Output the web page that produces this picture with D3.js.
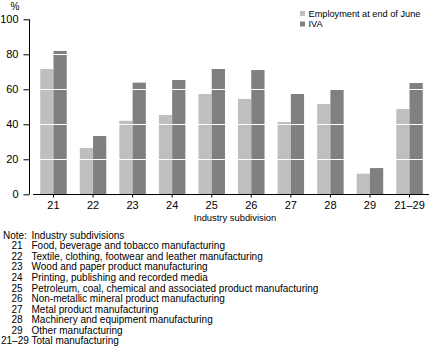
<!DOCTYPE html>
<html>
<head>
<meta charset="utf-8">
<script src="https://cdn.jsdelivr.net/npm/d3@7"></script>
<style>
  html, body { margin: 0; padding: 0; background: #fff; }
  svg text { font-family: "Liberation Sans Narrow", "Arial Narrow", "Liberation Sans", Arial, sans-serif; fill: #000; }
</style>
</head>
<body>
<svg id="chart" width="435" height="359"></svg>
<script>
const categories = ["21", "22", "23", "24", "25", "26", "27", "28", "29", "21–29"];
const employment = [71.6, 26.5, 42, 45.3, 57.3, 54.5, 41.3, 51.6, 11.8, 48.7];
const iva = [81.9, 33.3, 63.8, 65.3, 71.6, 71, 57.3, 59.6, 15, 63.6];
const seriesNames = ["Employment at end of June", "IVA"];
const seriesColors = ["#bfbfbf", "#808080"];
const yTicks = [0, 20, 40, 60, 80, 100];
const noteCodes = ["21", "22", "23", "24", "25", "26", "27", "28", "29", "21–29"];
const noteTexts = [
  "Food, beverage and tobacco manufacturing",
  "Textile, clothing, footwear and leather manufacturing",
  "Wood and paper product manufacturing",
  "Printing, publishing and recorded media",
  "Petroleum, coal, chemical and associated product manufacturing",
  "Non-metallic mineral product manufacturing",
  "Metal product manufacturing",
  "Machinery and equipment manufacturing",
  "Other manufacturing",
  "Total manufacturing"
];

const svg = d3.select("#chart");
const x = d3.scaleBand().domain(categories).range([33.7, 429.3]).paddingInner(0.33).paddingOuter(0.165);
const xs = d3.scaleBand().domain([0, 1]).range([0, x.bandwidth()]);
const y = d3.scaleLinear().domain([0, 100]).range([194.3, 19.3]);

const data = categories.map((c, i) => ({ c, v: [employment[i], iva[i]] }));

// bars
const g = svg.append("g");
data.forEach(d => {
  d.v.forEach((v, k) => {
    g.append("rect")
      .attr("x", x(d.c) + xs(k))
      .attr("y", y(v))
      .attr("width", xs.bandwidth())
      .attr("height", y(0) - y(v))
      .attr("fill", seriesColors[k]);
  });
});

// white gridlines over bars
svg.append("g").selectAll("line").data(yTicks.filter(t => t > 0 && t < 100)).join("line")
  .attr("x1", 33).attr("x2", 429)
  .attr("y1", d => Math.round(y(d)) + 0.5).attr("y2", d => Math.round(y(d)) + 0.5)
  .attr("stroke", "#fff").attr("stroke-width", 1.2);

// y axis
const yAxis = d3.axisLeft(y).tickValues(yTicks).tickSize(6).tickPadding(5).tickFormat(d3.format("d"));
const ya = svg.append("g").attr("transform", "translate(29.5,0)").call(yAxis);
ya.select(".domain").attr("d", `M0,${y(100)}V${y(0)}`).attr("stroke", "#000");
ya.selectAll("text").style("font-size", "11px");

// x axis
const xAxis = d3.axisBottom(x).tickSize(3).tickPadding(4);
const xa = svg.append("g").attr("transform", `translate(0,${Math.round(y(0)) + 0.5})`).call(xAxis);
xa.select(".domain").attr("d", "M33,0H429").attr("stroke", "#000");
xa.selectAll("text").style("font-size", "11px");

// % label
svg.append("text").attr("x", 15).attr("y", 10).attr("text-anchor", "middle").style("font-size", "10px").text("%");

// x axis title
svg.append("text").attr("x", 235).attr("y", 221).attr("text-anchor", "middle").style("font-size", "9.4px").text("Industry subdivision");

// legend
const leg = svg.append("g");
seriesNames.forEach((n, i) => {
  leg.append("rect").attr("x", 300).attr("y", 11 + i * 10.5).attr("width", 5).attr("height", 5).attr("fill", seriesColors[i]);
  leg.append("text").attr("x", 308.5).attr("y", 16.5 + i * 10.5).style("font-size", "9.2px").text(n);
});

// notes
const notes = svg.append("g").style("font-size", "10px");
notes.append("text").attr("x", 3).attr("y", 238.8).text("Note:");
notes.append("text").attr("x", 31.5).attr("y", 238.8).text("Industry subdivisions");
noteCodes.forEach((c, i) => {
  const yy = 238.8 + (i + 1) * 10.54;
  if (c.length > 2) {
    notes.append("text").attr("x", 1).attr("y", yy).text(c);
  } else {
    notes.append("text").attr("x", 22.5).attr("y", yy).attr("text-anchor", "end").text(c);
  }
  notes.append("text").attr("x", 31.5).attr("y", yy).text(noteTexts[i]);
});
</script>
</body>
</html>
